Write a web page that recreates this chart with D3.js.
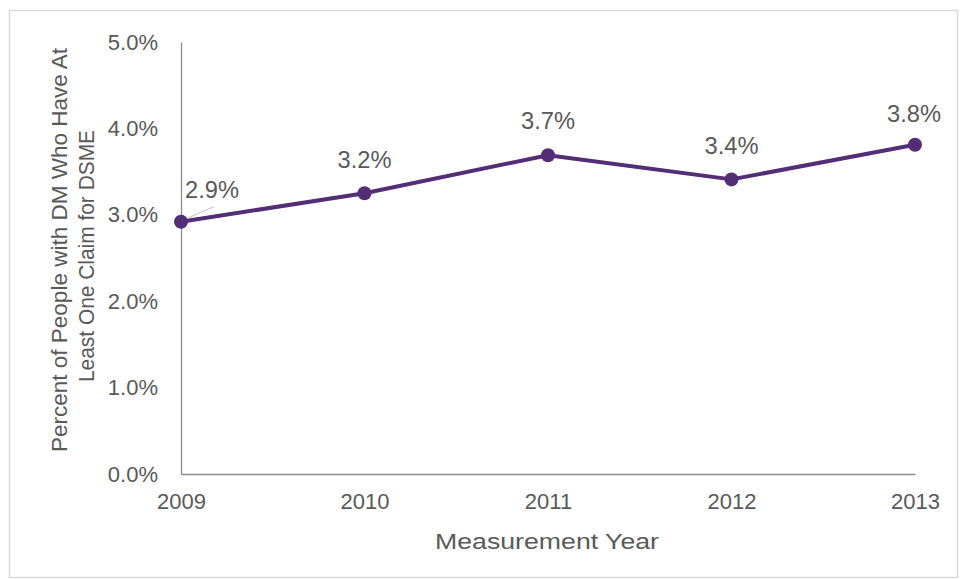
<!DOCTYPE html>
<html><head><meta charset="utf-8">
<script src="https://cdn.jsdelivr.net/npm/d3@7/dist/d3.min.js"></script>
<style>body{margin:0;background:#fff}svg{display:block;font-family:"Liberation Sans",Arial,sans-serif}</style>
</head><body>
<script>
const years = ["2009","2010","2011","2012","2013"];
const values = [0.0292, 0.0325, 0.0369, 0.0341, 0.0381];
const dataLabels = ["2.9%","3.2%","3.7%","3.4%","3.8%"];
const yTicks = [0,0.01,0.02,0.03,0.04,0.05];

const W=960,H=579;
const svg=d3.select("body").append("svg").attr("width",W).attr("height",H);
svg.append("rect").attr("x",9.5).attr("y",10.5).attr("width",948).attr("height",567)
  .attr("fill","#fff").attr("stroke","#d9d9d9").attr("stroke-width",1.5);

const x=d3.scalePoint().domain(years).range([181,915]).padding(0);
const y=d3.scaleLinear().domain([0,0.05]).range([474,42]);
const grey="#595959";
const ff="Liberation Sans, Arial, sans-serif";

// y axis
const ya=svg.append("g").attr("transform","translate(181,0)")
  .call(d3.axisLeft(y).tickValues(yTicks).tickFormat(d3.format(".1%")).tickSize(0).tickPadding(23));
ya.select(".domain").attr("stroke","#8c8c8c").attr("stroke-width",1.3);
ya.selectAll("text").attr("fill",grey).attr("font-size",22).attr("font-family",ff);

// x axis
const xa=svg.append("g").attr("transform","translate(0,474)")
  .call(d3.axisBottom(x).tickSize(0).tickPadding(19));
xa.select(".domain").attr("stroke","#8c8c8c").attr("stroke-width",1.3);
xa.selectAll("text").attr("fill",grey).attr("font-size",22).attr("font-family",ff);

// titles
svg.append("text").attr("x",547).attr("y",549).attr("text-anchor","middle")
  .attr("fill",grey).attr("font-size",22).attr("textLength",224).attr("lengthAdjust","spacingAndGlyphs")
  .text("Measurement Year");
const yt=svg.append("text").attr("transform","translate(0,250) rotate(-90)")
  .attr("text-anchor","middle").attr("fill",grey).attr("font-size",22);
yt.append("tspan").attr("x",0).attr("y",67).attr("textLength",404).attr("lengthAdjust","spacingAndGlyphs")
  .text("Percent of People with DM Who Have At");
yt.append("tspan").attr("x",-6).attr("y",94).attr("textLength",252).attr("lengthAdjust","spacingAndGlyphs")
  .text("Least One Claim for DSME");

// line
const purple="#532d76";
const pts=years.map((d,i)=>({year:d,v:values[i],label:dataLabels[i]}));
svg.append("path").datum(pts).attr("fill","none").attr("stroke",purple).attr("stroke-width",4)
  .attr("stroke-linejoin","round")
  .attr("d",d3.line().x(d=>x(d.year)).y(d=>y(d.v)));

// leader line for first label
svg.append("line").attr("x1",x(years[0])+3).attr("y1",y(values[0])-2)
  .attr("x2",x(years[0])+33).attr("y2",y(values[0])-15).attr("stroke","#bfbfbf").attr("stroke-width",1);

svg.selectAll("circle.pt").data(pts).enter().append("circle").attr("class","pt")
  .attr("cx",d=>x(d.year)).attr("cy",d=>y(d.v)).attr("r",7).attr("fill",purple);

// data labels
const offs=[[31,-24],[0,-25],[0,-26],[0,-25],[-1,-23]];
svg.selectAll("text.dl").data(pts).enter().append("text").attr("class","dl")
  .attr("x",(d,i)=>x(d.year)+offs[i][0]).attr("y",(d,i)=>y(d.v)+offs[i][1])
  .attr("text-anchor","middle").attr("fill",grey).attr("font-size",23).attr("font-family",ff)
  .attr("textLength",54).attr("lengthAdjust","spacingAndGlyphs").text(d=>d.label);
</script>
</body></html>
